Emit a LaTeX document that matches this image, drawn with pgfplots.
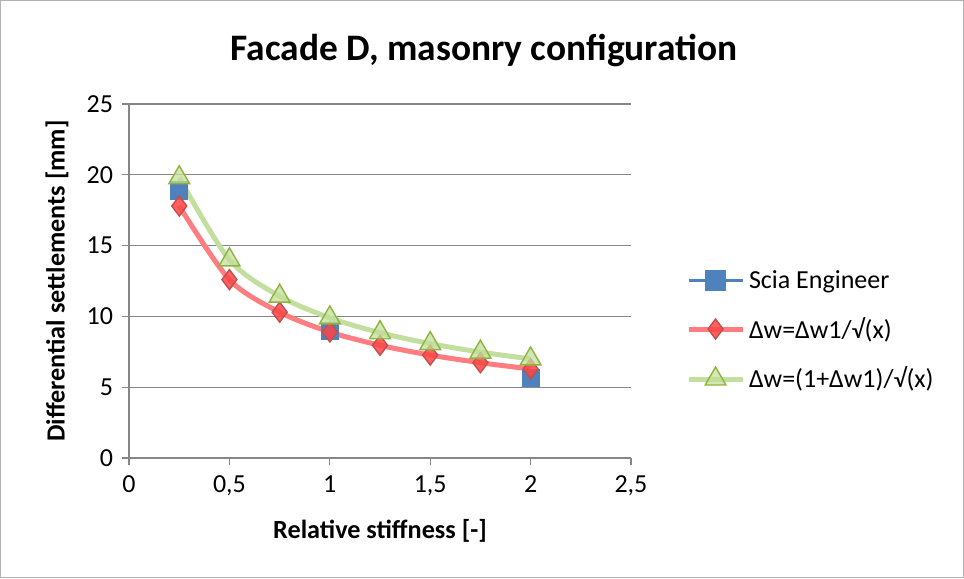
\documentclass[border=0pt]{standalone}
\usepackage{pgfplots}
\pgfplotsset{compat=1.18}
\usepackage{fontspec}
\setmainfont{Carlito}
\definecolor{gridgray}{HTML}{868686}
\definecolor{sciablue}{HTML}{4F81BD}
\definecolor{redline}{HTML}{FF7C80}
\definecolor{redfill}{HTML}{FF4545}
\definecolor{reddraw}{HTML}{C0504D}
\definecolor{greenline}{HTML}{C3DFA0}
\definecolor{greenfill}{HTML}{C4DE9A}
\definecolor{greendraw}{HTML}{8DB43E}

\begin{document}
\begin{tikzpicture}[x=0.5pt,y=0.5pt]
\draw[gray!60, line width=0.6pt] (0.5,0.5) rectangle (963.5,577.5);
\path[use as bounding box] (0,0) rectangle (964,578);

\node[font=\fontsize{18.7}{22}\selectfont\bfseries] at (484,528) {Facade D, masonry configuration};
\node[font=\fontsize{13.1}{15}\selectfont\bfseries] at (380,47) {Relative stiffness [-]};
\node[font=\fontsize{13.1}{15}\selectfont\bfseries, rotate=90] at (57,297) {Differential settlements [mm]};

\begin{axis}[
  at={(64.5pt,60pt)}, anchor=south west,
  scale only axis, width=251pt, height=177pt,
  xmin=0, xmax=2.5, ymin=0, ymax=25,
  xtick={0,0.5,...,2.5}, ytick={0,5,...,25},
  xticklabels={0,{0,5},1,{1,5},2,{2,5}},
  ymajorgrids=true,
  grid style={gridgray, line width=0.6pt},
  axis line style={gridgray, line width=0.6pt},
  axis x line=bottom, axis y line=left,
  x axis line style={-}, y axis line style={-},
  tick style={gridgray, line width=0.6pt},
  tick align=outside, major tick length=3.5pt,
  ticklabel style={font=\fontsize{13}{15}\selectfont, black},
  /pgf/number format/assume math mode=true,
  xticklabel style={yshift=-2pt},
  yticklabel style={xshift=-1pt},
  clip=false,
  legend style={at={(1.097,0.36)}, anchor=west, draw=none, fill=none,
    font=\fontsize{13}{15}\selectfont, row sep=9pt},
  legend cell align=left,
  legend image code/.code={
    \draw[#1] (0pt,0pt) -- (27pt,0pt);
    \draw[#1, solid] plot coordinates {(13.5pt,0pt)};
  },
]
\addplot[only marks, mark=square*, mark size=4.3pt, color=sciablue, forget plot]
  coordinates {(0.25,18.9) (1,8.95) (2,5.65)};
\addlegendimage{sciablue, line width=1.6pt, mark=square*, mark size=4.3pt, mark options={solid}}
\addlegendentry{Scia Engineer}

\addplot[redline, line width=2.5pt, smooth, tension=0.5, mark=diamond*, mark size=5pt,
  mark options={fill=redfill, draw=reddraw, line width=0.7pt, fill opacity=0.85}]
  coordinates {(0.25,17.8) (0.5,12.6) (0.75,10.3) (1,8.9) (1.25,7.96) (1.5,7.27) (1.75,6.73) (2,6.29)};
\addlegendentry{Δw=Δw1/√(x)}

\addplot[greenline, line width=2.5pt, smooth, tension=0.5, mark=triangle*, mark size=6pt,
  mark options={fill=greenfill, draw=greendraw, line width=0.7pt, fill opacity=0.75}]
  coordinates {(0.25,19.8) (0.5,14.0) (0.75,11.43) (1,9.9) (1.25,8.85) (1.5,8.08) (1.75,7.48) (2,7.0)};
\addlegendentry{Δw=(1+Δw1)/√(x)}
\end{axis}
\end{tikzpicture}
\end{document}
